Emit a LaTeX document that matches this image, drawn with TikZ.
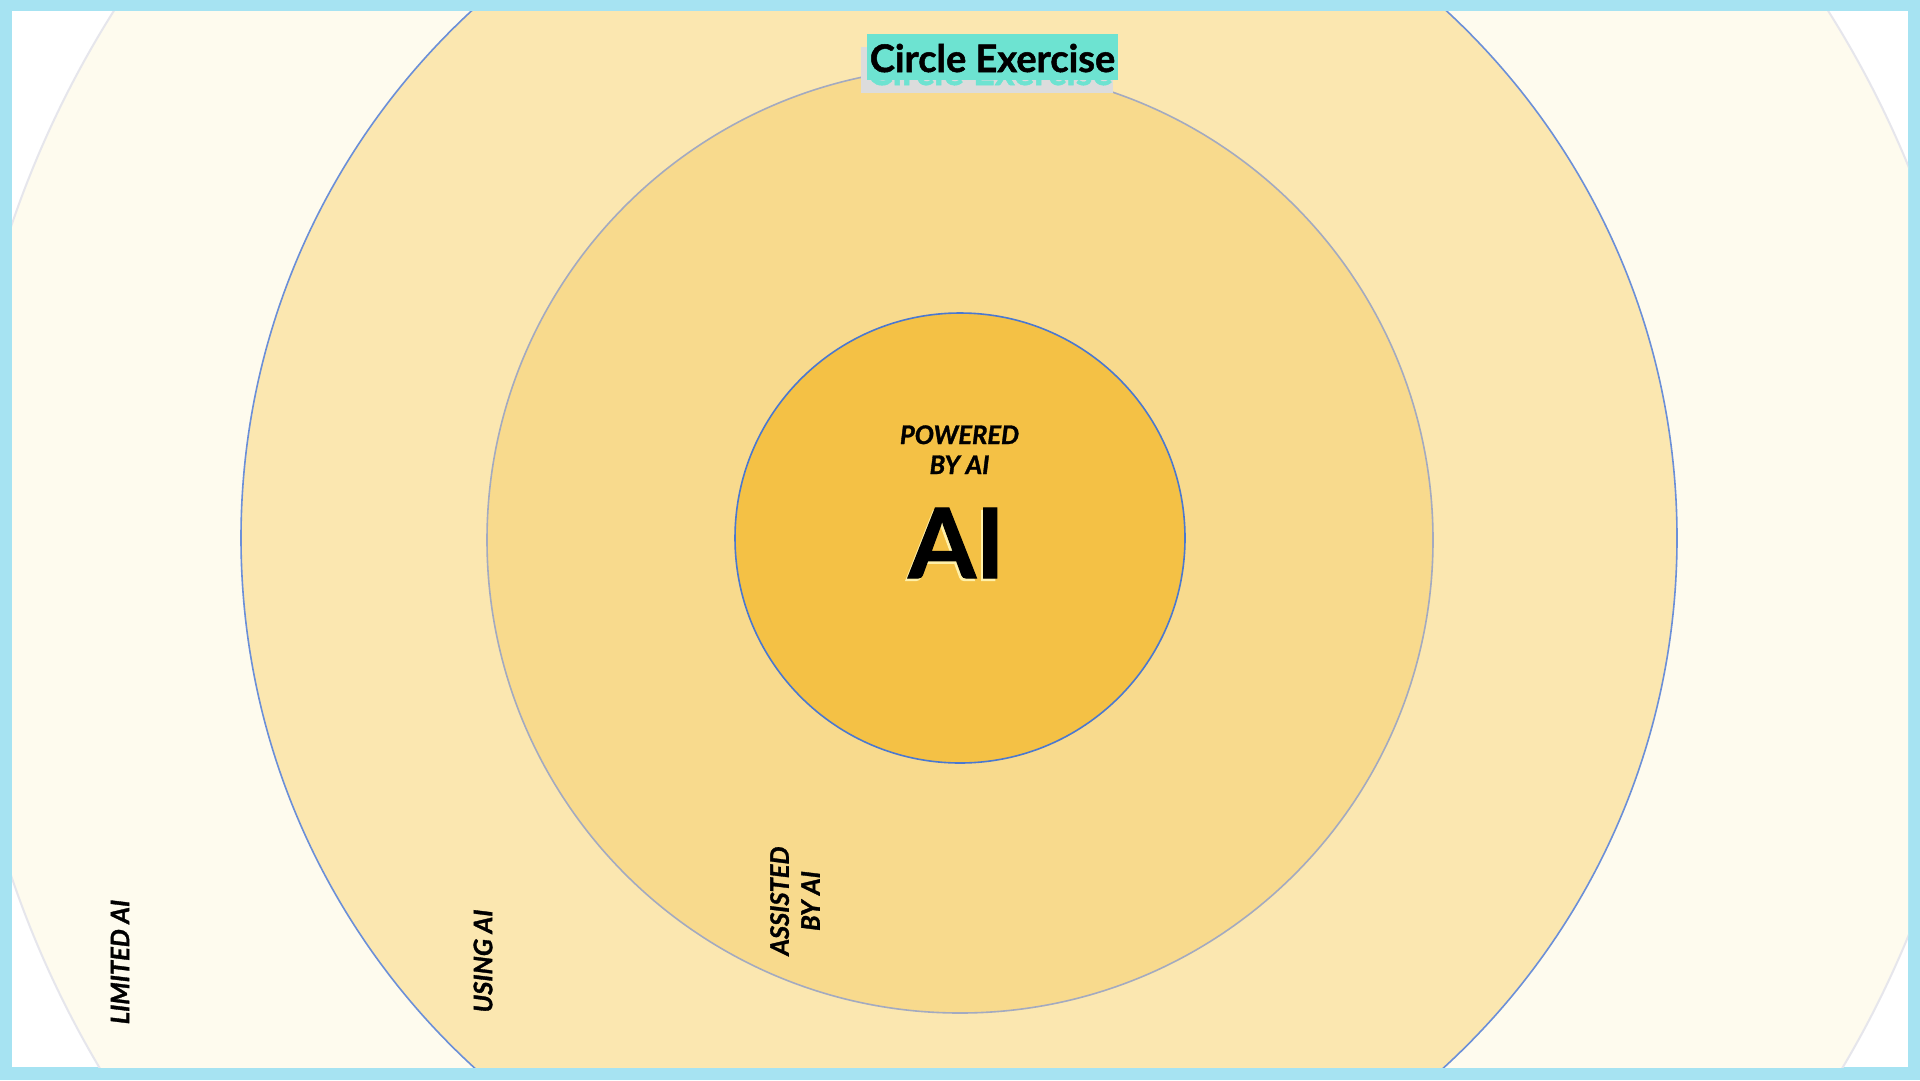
\documentclass[tikz,border=0pt]{standalone}
\usepackage{fontspec}
\setmainfont{Lato}[BoldFeatures={FakeBold=1.3}, BoldItalicFeatures={FakeBold=1.3}]
\definecolor{framebl}{HTML}{A6E3F2}
\definecolor{ringA}{HTML}{FEFBEE}
\definecolor{ringB}{HTML}{FBE7B0}
\definecolor{ringC}{HTML}{F8DA8D}
\definecolor{ringD}{HTML}{F4C145}
\definecolor{strA}{HTML}{E6E6EC}
\definecolor{strB}{HTML}{6B8FD8}
\definecolor{strC}{HTML}{A3AAC0}
\definecolor{strD}{HTML}{4A78D0}
\definecolor{teal}{HTML}{6DE3D1}
\definecolor{graybox}{HTML}{DCDCDC}
\definecolor{aishadow}{HTML}{FFF0A8}
\tikzset{
  lbl/.style={font=\fontsize{25.5}{31}\selectfont\bfseries\itshape, inner sep=0pt, align=center, text=black},
  ring/.style={line width=1.6pt},
  titletext/.style={anchor=base, inner sep=0pt, font=\fontsize{38}{42}\selectfont\bfseries},
  bigai/.style={anchor=base, inner sep=0pt, font=\fontsize{97}{100}\selectfont\bfseries},
}
\begin{document}
\begin{tikzpicture}[x=1pt,y=-1pt]
\useasboundingbox (0,0) rectangle (1920,1080);
\fill[framebl] (0,0) rectangle (1920,1080);
\fill[white] (12,11) rectangle (1908,1067);
\begin{scope}
  \clip (12,11) rectangle (1908,1067);
  \path[ring, fill=ringA, draw=strA, line width=2pt] (971,551) circle[radius=1013pt];
  \path[ring, fill=ringB, draw=strB] (959,538) circle[radius=718pt];
  \path[ring, fill=ringC, draw=strC] (960,540) circle[radius=473pt];
  \path[ring, fill=ringD, draw=strD] (960,538) circle[radius=225pt];
\end{scope}
% title
\fill[graybox] (861,47) rectangle (1113,93);
\node[titletext, text=teal] (titleshadow) at (990,85) {Circle Exercise};
\fill[teal] (867,34) rectangle (1118,80);
\node[titletext, text=black] (title) at (992.5,72) {Circle Exercise};
% center
\node[lbl, anchor=base] (powered) at (959.5,444) {POWERED};
\node[lbl, anchor=base] (byai) at (959.5,474) {BY AI};
\node[bigai, text=aishadow] (aishad) at (954.5,580.5) {AI};
\node[bigai, text=black] (ai) at (956.5,578) {AI};
% ring labels
\node[lbl, rotate=90] (limited) at (120,962) {LIMITED AI};
\node[lbl, rotate=90] (using) at (483,961) {USING AI};
\node[lbl, rotate=90] (assisted) at (795,901) {ASSISTED\\BY AI};
\end{tikzpicture}
\end{document}
